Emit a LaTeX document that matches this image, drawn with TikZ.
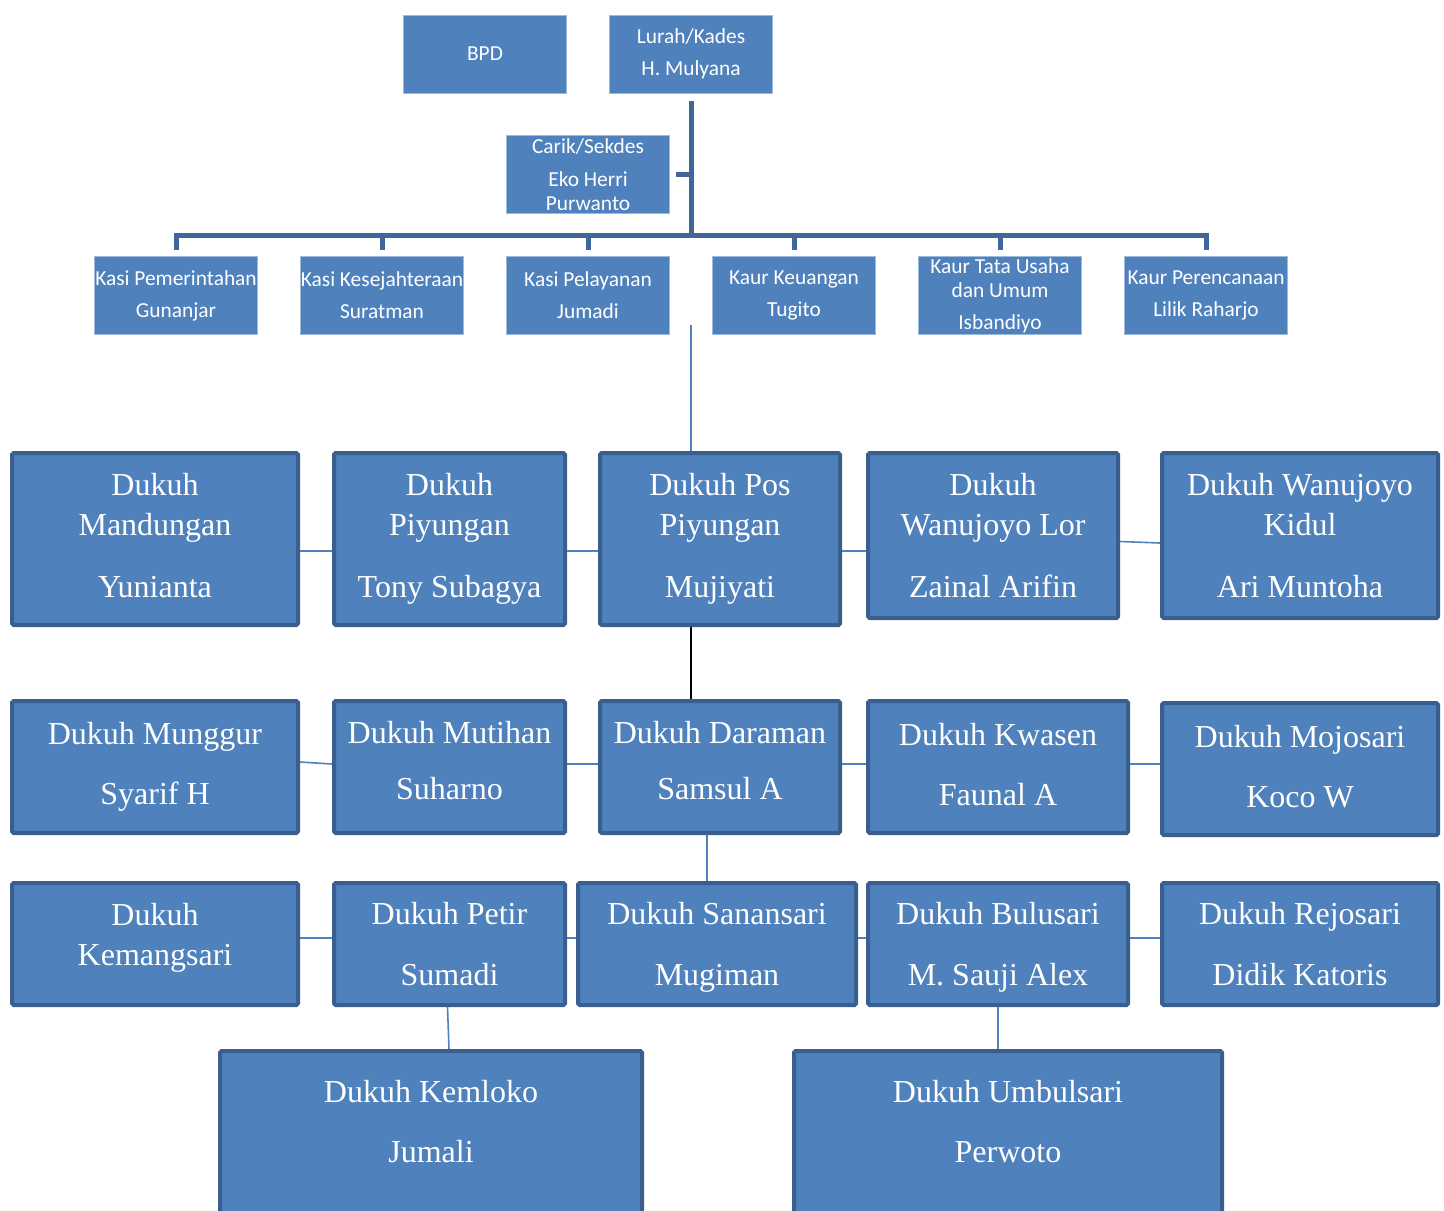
\documentclass[tikz,border=0pt]{standalone}
\usepackage{fontspec}
\setmainfont{Liberation Serif}
\newfontfamily\calibri{Carlito}
\usetikzlibrary{positioning,calc}

\definecolor{boxblue}{HTML}{4F81BD}
\definecolor{rimblue}{HTML}{3A5F8E}
\definecolor{trunkblue}{HTML}{41679A}

\begin{document}
\begin{tikzpicture}[
  x=0.5pt, y=-0.5pt,
  office/.style={
    rectangle, draw=boxblue!55!white, line width=0.5pt, fill=boxblue,
    minimum width=81.5pt, minimum height=39pt, inner sep=0pt,
    text=white, align=center,
    font=\calibri\fontsize{10.7}{12}\selectfont
  },
  dukuh/.style={
    rectangle, rounded corners=0.8pt, draw=rimblue, line width=2pt, fill=boxblue,
    inner sep=0pt, text=white, align=center,
    font=\fontsize{16}{20}\selectfont
  },
  row1/.style={dukuh, minimum height=86pt},
  row2/.style={dukuh, minimum height=66pt},
  row3/.style={dukuh, minimum height=61pt},
  row4/.style={dukuh, minimum height=88.5pt},
  trunk/.style={draw=trunkblue, line width=2.5pt},
  link/.style={draw=boxblue, line width=0.8pt}
]
\useasboundingbox (0,0) rectangle (1444,1210);

% Head of the village
\node[office] (bpd) at (485,54) {BPD};
\node[office] (lurah) at (691,54) {Lurah/Kades\\[4pt]H. Mulyana};
\node[office] (carik) at (588,174.5) {Carik/Sekdes\\[4.5pt]Eko Herri\\Purwanto};

% Kasi / Kaur row
\node[office] (kasi1) at (176,295.5) {Kasi Pemerintahan\\[4pt]Gunanjar};
\node[office] (kasi2) at (382,295.5) {Kasi Kesejahteraan\\[4pt]Suratman};
\node[office] (kasi3) at (588,295.5) {Kasi Pelayanan\\[4pt]Jumadi};
\node[office] (kasi4) at (794,295.5) {Kaur Keuangan\\[4pt]Tugito};
\node[office] (kasi5) at (1000,295.5) {Kaur Tata Usaha\\dan Umum\\[4pt]Isbandiyo};
\node[office] (kasi6) at (1206,295.5) {Kaur Perencanaan\\[4pt]Lilik Raharjo};

\coordinate (bar) at (691,235);
\coordinate (stem) at (691,325);

\draw[trunk] ([yshift=-3.5pt]lurah.south) -- (bar);
\draw[trunk] ([xshift=3pt]carik.east) -- (carik.east -| bar);
\draw[trunk, line join=miter] ([yshift=3pt]kasi1.north) |- (bar) -| ([yshift=3pt]kasi6.north);
\foreach \k in {kasi2,kasi3,kasi4,kasi5}
  \draw[trunk] ([yshift=3pt]\k.north) -- (\k.north |- bar);

% Dukuh row 1
\node[row1, minimum width=143pt, text depth=3.5pt] (mandungan) at (155,539) {Dukuh\\Mandungan\\[11pt]Yunianta};
\node[row1, minimum width=115.5pt] (piyungan) at (449.5,539) {Dukuh\\Piyungan\\[11pt]Tony Subagya};
\node[row1, minimum width=120pt] (pospiy) at (720,539) {Dukuh Pos\\Piyungan\\[11pt]Mujiyati};
\node[row1, minimum width=125pt, minimum height=82.5pt] (wlor) at (993,535.5) {Dukuh\\Wanujoyo Lor\\[11pt]Zainal Arifin};
\node[row1, minimum width=138pt, minimum height=82.5pt] (wkidul) at (1300,535.5) {Dukuh Wanujoyo\\Kidul\\[11pt]Ari Muntoha};

% Dukuh row 2
\node[row2, minimum width=143pt] (munggur) at (155,767) {Dukuh Munggur\\[10pt]Syarif H};
\node[row2, minimum width=115.5pt, text depth=7pt] (mutihan) at (449.5,767) {Dukuh Mutihan\\[8pt]Suharno};
\node[row2, minimum width=120pt, text depth=7pt] (daraman) at (720,767) {Dukuh Daraman\\[8pt]Samsul A};
\node[row2, minimum width=130pt, text depth=3pt] (kwasen) at (998,767) {Dukuh Kwasen\\[10pt]Faunal A};
\node[row2, minimum width=138pt, text depth=3pt] (mojosari) at (1300,769) {Dukuh Mojosari\\[10pt]Koco W};

% Dukuh row 3
\node[row3, minimum width=143pt, text depth=10pt] (kemangsari) at (155,944) {Dukuh\\Kemangsari};
\node[row3, minimum width=115.5pt] (petir) at (449.5,944) {Dukuh Petir\\[10.5pt]Sumadi};
\node[row3, minimum width=139pt, text depth=0pt] (sanansari) at (717,944) {Dukuh Sanansari\\[10.5pt]Mugiman};
\node[row3, minimum width=130pt, text depth=0pt] (bulusari) at (998,944) {Dukuh Bulusari\\[10.5pt]M. Sauji Alex};
\node[row3, minimum width=138pt] (rejosari) at (1300,944) {Dukuh Rejosari\\[10.5pt]Didik Katoris};

% Dukuh row 4
\node[row4, minimum width=211pt, text depth=18pt] (kemloko) at (431,1139.5) {Dukuh Kemloko\\[10pt]Jumali};
\node[row4, minimum width=214pt, text depth=18pt] (umbulsari) at (1008,1139.5) {Dukuh Umbulsari\\[10pt]Perwoto};

% links between the dukuh
\draw[link] (stem) -- (stem |- pospiy.north);
\draw[black, line width=0.6pt] (pospiy.south -| stem) -- (daraman.north -| stem);

\draw[link] ([yshift=-6pt]mandungan.east) -- ([yshift=-6pt]piyungan.west);
\draw[link] ([yshift=-6pt]piyungan.east) -- ([yshift=-6pt]pospiy.west);
\draw[link] ([yshift=-6pt]pospiy.east) -- ([yshift=-6pt]pospiy.east -| wlor.west);
\draw[link] ([yshift=-3pt]wlor.east) -- ([yshift=-3.75pt]wkidul.west);

\draw[link] ([yshift=2.5pt]munggur.east) -- ([yshift=1.5pt]mutihan.west);
\draw[link] ([yshift=1.5pt]mutihan.east) -- ([yshift=1.5pt]daraman.west);
\draw[link] ([yshift=1.5pt]daraman.east) -- ([yshift=1.5pt]kwasen.west);
\draw[link] ([yshift=1.5pt]kwasen.east) -- ([yshift=1.5pt]kwasen.east -| mojosari.west);
\draw[link] ([xshift=-6.5pt]daraman.south) -- ([xshift=-6.5pt]daraman.south |- sanansari.north);

\draw[link] ([yshift=3pt]kemangsari.east) -- ([yshift=3pt]petir.west);
\draw[link] ([yshift=3pt]petir.east) -- ([yshift=3pt]sanansari.west);
\draw[link] ([yshift=3pt]sanansari.east) -- ([yshift=3pt]bulusari.west);
\draw[link] ([yshift=3pt]bulusari.east) -- ([yshift=3pt]rejosari.west);

\draw[link] ([xshift=-1pt]petir.south) -- ([xshift=9pt]kemloko.north);
\draw[link] (bulusari.south) -- (bulusari.south |- umbulsari.north);
\end{tikzpicture}
\end{document}
